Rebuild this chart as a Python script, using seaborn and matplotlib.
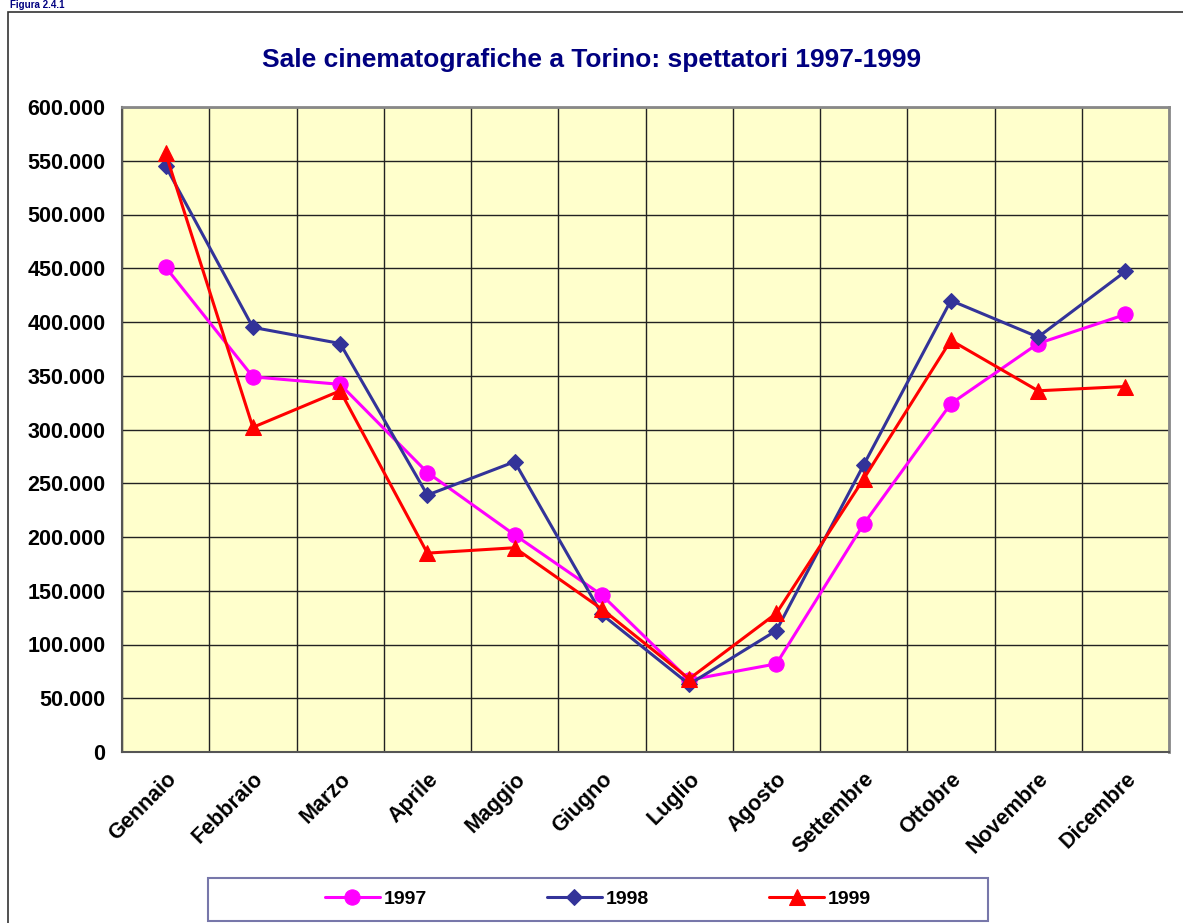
import matplotlib
matplotlib.use("Agg")
import matplotlib.pyplot as plt
from matplotlib.patches import Rectangle
import numpy as np
import pandas as pd
import seaborn as sns

# mesi e spettatori
mesi = ["Gennaio", "Febbraio", "Marzo", "Aprile", "Maggio", "Giugno",
        "Luglio", "Agosto", "Settembre", "Ottobre", "Novembre", "Dicembre"]
v1997 = [451000, 349000, 342000, 260000, 202000, 146000,
         67000, 82000, 212000, 324000, 380000, 407000]
v1998 = [545000, 395000, 380000, 239000, 270000, 128000,
         63000, 113000, 267000, 420000, 386000, 447000]
v1999 = [557000, 302000, 336000, 185000, 190000, 133000,
         68000, 129000, 254000, 383000, 336000, 340000]
anni = ["1997", "1998", "1999"]

df = pd.DataFrame({
    "mese": mesi * 3,
    "pos": list(range(12)) * 3,
    "anno": [a for a in anni for _ in mesi],
    "spettatori": v1997 + v1998 + v1999,
})

colori = {"1997": "#FF00FF", "1998": "#333399", "1999": "#FF0000"}
marker = {"1997": "o", "1998": "D", "1999": "^"}
msize = {"1997": 11, "1998": 8, "1999": 11}

sns.set_style("white")
plt.rcParams["font.family"] = ["Liberation Sans", "DejaVu Sans"]

fig = plt.figure(figsize=(11.83, 9.23), dpi=100)
ax = fig.add_axes([122/1183, 1-752/923, (1169-122)/1183, (752-107)/923])
ax.set_facecolor("#FFFFCC")

for a in anni:
    sub = df[df["anno"] == a]
    sns.lineplot(data=sub, x="pos", y="spettatori", ax=ax, color=colori[a],
                 marker=marker[a], markersize=msize[a], markeredgecolor=colori[a],
                 linewidth=2.2, label=a, legend=False)

ax.set_xlim(-0.5, 11.5)
ax.set_ylim(0, 600000)
ax.set_yticks(np.arange(0, 600001, 50000))
ax.set_yticklabels(["0"] + [f"{int(v/1000)}.000" for v in np.arange(50000, 600001, 50000)],
                   fontsize=15.5, fontweight="bold")
ax.set_xticks(np.arange(12))
ax.set_xticklabels(mesi, rotation=45, ha="right", rotation_mode="anchor",
                   fontsize=15.5, fontweight="bold")
ax.set_xticks(np.arange(-0.5, 12, 1), minor=True)
ax.tick_params(axis="x", which="major", length=0, pad=12, labelcolor="black")
ax.tick_params(axis="x", which="minor", length=7, width=1, color="#555555", direction="out")
ax.tick_params(axis="y", length=7, width=1, color="#555555", direction="out", pad=5,
               labelcolor="black")
ax.grid(True, axis="y", which="major", color="#222222", linewidth=1)
ax.grid(True, axis="x", which="minor", color="#222222", linewidth=1)
ax.set_axisbelow(True)
ax.set_xlabel("")
ax.set_ylabel("")
for s in ["top", "right"]:
    ax.spines[s].set_color("#888888")
    ax.spines[s].set_linewidth(2)
for s in ["left", "bottom"]:
    ax.spines[s].set_color("#555555")
    ax.spines[s].set_linewidth(1.5)

fig.text(592/1183, 1-60/923, "Sale cinematografiche a Torino: spettatori 1997-1999",
         ha="center", va="center", fontsize=19, fontweight="bold", color="#000080")
fig.text(10/1183, 1.0, "Figura 2.4.1", ha="left", va="top",
         fontsize=7, fontweight="bold", color="#000080")

# cornice esterna
fig.patches.append(Rectangle((8/1183, -0.05), 1.2, 1.05 - 12/923,
                             transform=fig.transFigure, fill=False,
                             edgecolor="#333333", linewidth=1.2))

# riquadro legenda
fig.patches.append(Rectangle((208/1183, 1-921/923), (988-208)/1183, (921-878)/923,
                             transform=fig.transFigure, facecolor="white",
                             edgecolor="#7777aa", linewidth=1.5))

handles, labels = ax.get_legend_handles_labels()
leg = fig.legend(handles, labels, loc="center", ncol=3,
                 bbox_to_anchor=(598/1183, 1-899/923),
                 frameon=False, handlelength=2.8, handletextpad=0.2,
                 columnspacing=6.2, prop={"weight": "bold", "size": 14})
for t in leg.get_texts():
    t.set_color("black")

fig.savefig("out.png", dpi=100)
